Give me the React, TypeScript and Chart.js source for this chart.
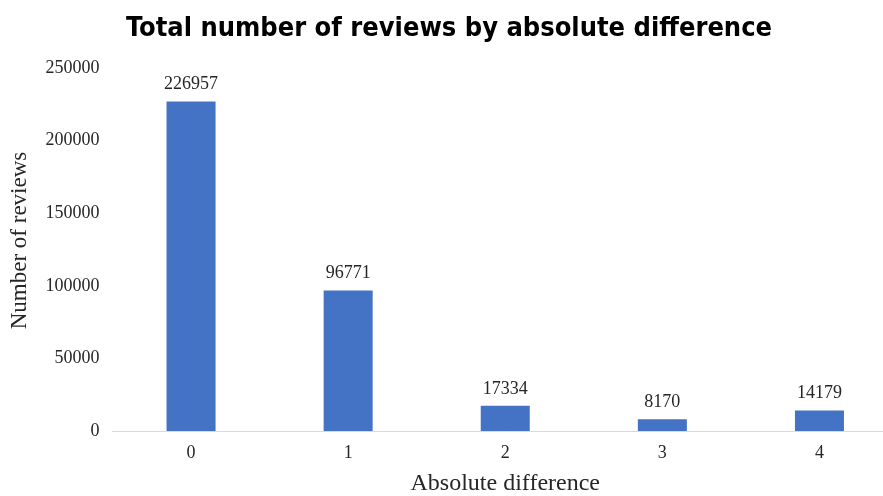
import React, { useEffect, useRef } from "react";
import { Chart, registerables } from "chart.js";

Chart.register(...registerables);

const categories = ["0", "1", "2", "3", "4"];
const reviewCounts = [226957, 96771, 17334, 8170, 14179];
const yTicks = [0, 50000, 100000, 150000, 200000, 250000];

const titleText = "Total number of reviews by absolute difference";
const xTitle = "Absolute difference";
const yTitle = "Number of reviews";

const SERIF = "'Liberation Serif', 'Times New Roman', serif";

const valueLabels = {
  id: "valueLabels",
  afterDatasetsDraw(chart: any) {
    const ctx = chart.ctx;
    const meta = chart.getDatasetMeta(0);
    const data = chart.data.datasets[0].data;
    ctx.save();
    ctx.font = `18px ${SERIF}`;
    ctx.fillStyle = "#262626";
    ctx.textAlign = "center";
    ctx.textBaseline = "alphabetic";
    meta.data.forEach((bar: any, i: number) => {
      ctx.fillText(String(data[i]), bar.x, bar.y - 12);
    });
    ctx.restore();
  },
};

const yAxisTitle = {
  id: "yAxisTitle",
  afterDraw(chart: any) {
    const ctx = chart.ctx;
    const area = chart.chartArea;
    ctx.save();
    ctx.font = `23px ${SERIF}`;
    ctx.fillStyle = "#262626";
    ctx.textAlign = "center";
    ctx.textBaseline = "middle";
    ctx.translate(20, (area.top + area.bottom) / 2 - 9);
    ctx.rotate(-Math.PI / 2);
    ctx.fillText(yTitle, 0, 0);
    ctx.restore();
  },
};

export default function App() {
  const ref = useRef<HTMLCanvasElement | null>(null);

  useEffect(() => {
    const canvas = ref.current;
    if (!canvas) return;
    const chart = new Chart(canvas, {
      type: "bar",
      data: {
        labels: categories,
        datasets: [
          {
            data: reviewCounts,
            backgroundColor: "#4472C4",
            borderWidth: 0,
            barPercentage: 0.312,
            categoryPercentage: 1,
          },
        ],
      },
      options: {
        animation: false,
        responsive: false,
        maintainAspectRatio: false,
        layout: { padding: 0 },
        plugins: {
          legend: { display: false },
          tooltip: { enabled: false },
          title: {
            display: true,
            text: titleText,
            color: "#000000",
            font: { family: "'DejaVu Sans Condensed', 'DejaVu Sans', sans-serif", size: 27, weight: "bold", lineHeight: 1.2 },
            padding: { top: 12.8, bottom: 22.8 },
          },
        },
        scales: {
          x: {
            grid: { display: false, drawTicks: false },
            border: { display: true, color: "#D9D9D9", width: 1 },
            ticks: {
              color: "#262626",
              font: { family: SERIF, size: 18 },
              padding: 11,
              maxRotation: 0,
            },
            title: {
              display: true,
              text: xTitle,
              color: "#262626",
              font: { family: SERIF, size: 24, lineHeight: 1 },
              padding: 0,
            },
            afterFit(scale: any) {
              scale.height = 65;
            },
          },
          y: {
            min: 0,
            max: 250000,
            afterBuildTicks(scale: any) {
              scale.ticks = yTicks.map((v) => ({ value: v }));
            },
            grid: { display: false, drawTicks: false },
            border: { display: false },
            ticks: {
              color: "#262626",
              font: { family: SERIF, size: 18 },
              padding: 13,
              callback: (v: any) => String(v),
            },
            afterFit(scale: any) {
              scale.width = 112.5;
            },
          },
        },
      },
      plugins: [valueLabels, yAxisTitle],
    });
    return () => chart.destroy();
  }, []);

  return (
    <div
      style={{
        position: "fixed",
        left: 0,
        top: 0,
        width: 883,
        height: 496,
        overflow: "hidden",
        background: "#ffffff",
      }}
    >
      <canvas ref={ref} width={898} height={496} style={{ width: 898, height: 496, display: "block" }} />
    </div>
  );
}
